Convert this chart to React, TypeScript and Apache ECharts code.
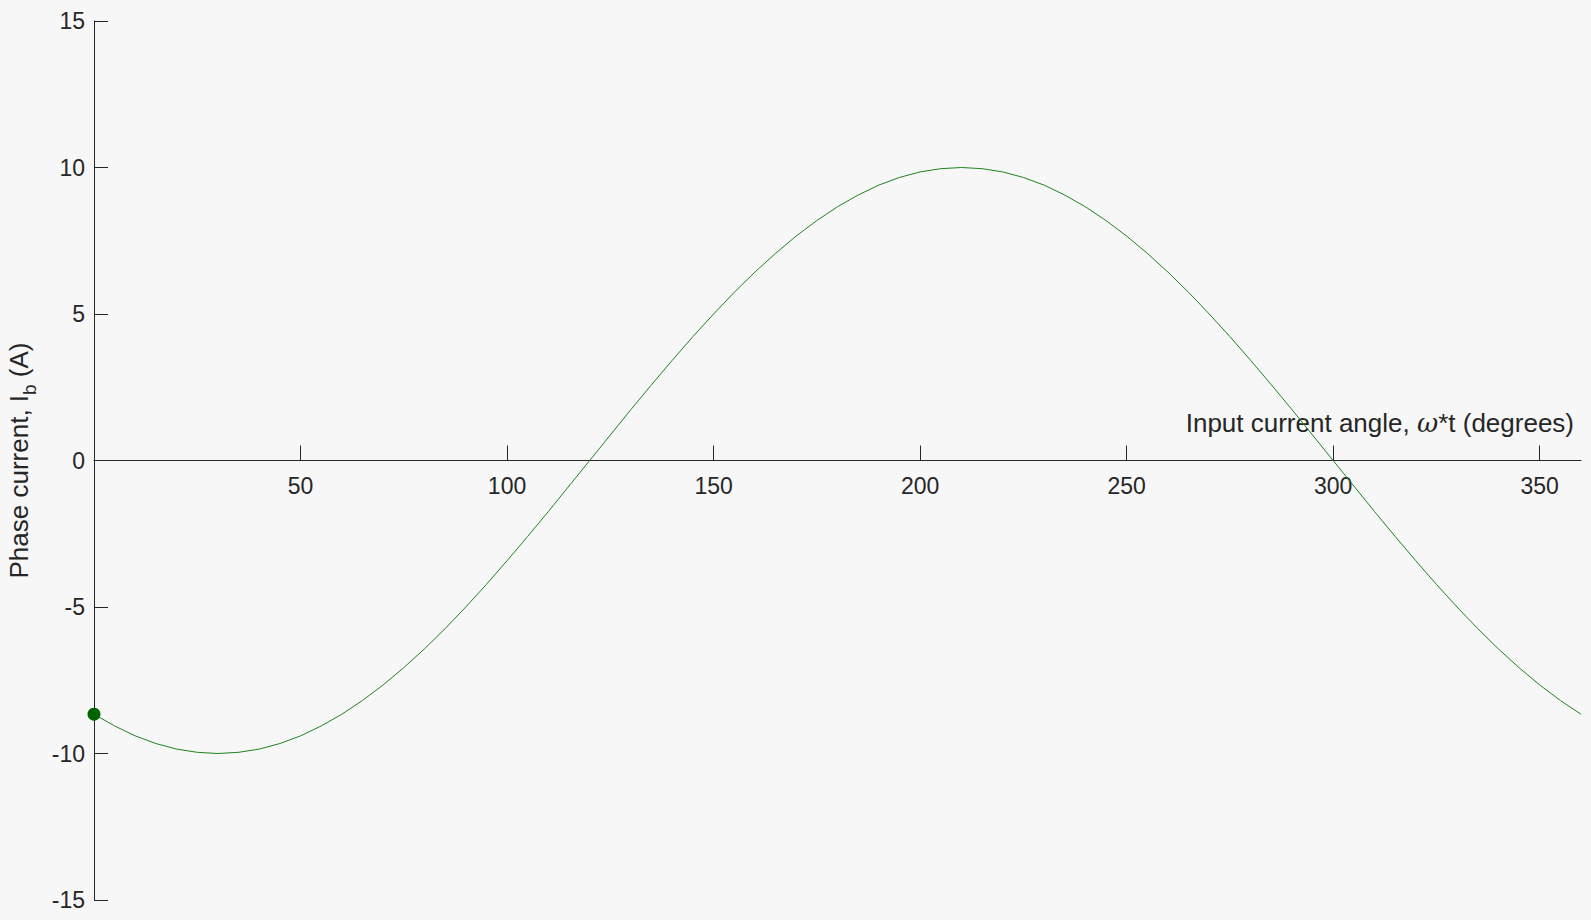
import { useEffect, useRef } from "react";
import * as echarts from "echarts";

// angle in degrees (x) and phase current Ib in A (y)
const angles = [
  0, 5, 10, 15, 20, 25, 30, 35, 40, 45, 50, 55, 60, 65, 70, 75, 80, 85, 90,
  95, 100, 105, 110, 115, 120, 125, 130, 135, 140, 145, 150, 155, 160, 165,
  170, 175, 180, 185, 190, 195, 200, 205, 210, 215, 220, 225, 230, 235, 240,
  245, 250, 255, 260, 265, 270, 275, 280, 285, 290, 295, 300, 305, 310, 315,
  320, 325, 330, 335, 340, 345, 350, 355, 360,
];
const phaseCurrent = [
  -8.66, -9.06, -9.4, -9.66, -9.85, -9.96, -10.0, -9.96, -9.85, -9.66, -9.4,
  -9.06, -8.66, -8.19, -7.66, -7.07, -6.43, -5.74, -5.0, -4.23, -3.42, -2.59,
  -1.74, -0.87, 0, 0.87, 1.74, 2.59, 3.42, 4.23, 5.0, 5.74, 6.43, 7.07, 7.66,
  8.19, 8.66, 9.06, 9.4, 9.66, 9.85, 9.96, 10.0, 9.96, 9.85, 9.66, 9.4, 9.06,
  8.66, 8.19, 7.66, 7.07, 6.43, 5.74, 5.0, 4.23, 3.42, 2.59, 1.74, 0.87, 0,
  -0.87, -1.74, -2.59, -3.42, -4.23, -5.0, -5.74, -6.43, -7.07, -7.66, -8.19,
  -8.66,
];
const startPoint = [[0, -8.66]];
const xTicks = [50, 100, 150, 200, 250, 300, 350];

const FONT = "'Liberation Sans', Arial, Helvetica, sans-serif";
const INK = "#262626";

// plot box in px
const TOP = 21;
const BOTTOM = 20;
const H = 920;
// x axis sits on y = 0, halfway up the -15..15 range
const X_AXIS_OFFSET = -((H - TOP - BOTTOM) / 2);

export default function App() {
  const chartRef = useRef<HTMLDivElement>(null);

  useEffect(() => {
    if (!chartRef.current) return;
    const chart = echarts.init(chartRef.current, undefined, { renderer: "svg" });

    const option: any = {
      animation: false,
      backgroundColor: "#f7f7f7",
      textStyle: { fontFamily: FONT, color: INK },
      grid: {
        left: 94,
        right: 10,
        top: TOP,
        bottom: BOTTOM,
        containLabel: false,
        outerBoundsMode: "none",
      },
      xAxis: {
        type: "value",
        min: 0,
        max: 360,
        interval: 50,
        offset: X_AXIS_OFFSET,
        name: "Input current angle, {i|ω}*t (degrees)",
        nameLocation: "end",
        nameGap: -7,
        nameTextStyle: {
          fontSize: 26,
          fontFamily: FONT,
          color: INK,
          align: "right",
          verticalAlign: "bottom",
          padding: [0, 0, 25, 0],
          rich: {
            i: { fontSize: 26, fontFamily: "'DejaVu Serif', serif", fontStyle: "italic", color: INK },
          },
        },
        axisLine: { onZero: false, lineStyle: { color: INK, width: 1 } },
        axisTick: { inside: true, length: 15, customValues: xTicks, lineStyle: { color: INK } },
        axisLabel: { fontSize: 23, color: INK, margin: 14, customValues: xTicks },
        splitLine: { show: false },
      },
      yAxis: {
        type: "value",
        min: -15,
        max: 15,
        interval: 5,
        name: "Phase current, I{sub|b} (A)",
        nameLocation: "middle",
        nameGap: 55,
        nameTextStyle: {
          fontSize: 26,
          fontFamily: FONT,
          color: INK,
          rich: {
            sub: { fontSize: 19, fontFamily: FONT, color: INK, verticalAlign: "bottom", lineHeight: 40 },
          },
        },
        axisLine: { show: true, onZero: false, lineStyle: { color: INK, width: 1 } },
        axisTick: { show: true, inside: true, length: 14, lineStyle: { color: INK } },
        axisLabel: { fontSize: 23, color: INK, margin: 9 },
        splitLine: { show: false },
      },
      series: [
        {
          type: "line",
          data: angles.map((a, i) => [a, phaseCurrent[i]]),
          showSymbol: false,
          lineStyle: { color: "#1f841f", width: 1 },
          z: 2,
        },
        {
          type: "scatter",
          data: startPoint,
          symbolSize: 13,
          itemStyle: { color: "#006400", opacity: 1 },
          z: 3,
        },
      ],
    };

    chart.setOption(option);
    return () => chart.dispose();
  }, []);

  return (
    <div
      ref={chartRef}
      style={{ position: "fixed", left: 0, top: 0, width: "100vw", height: "100vh" }}
    />
  );
}
